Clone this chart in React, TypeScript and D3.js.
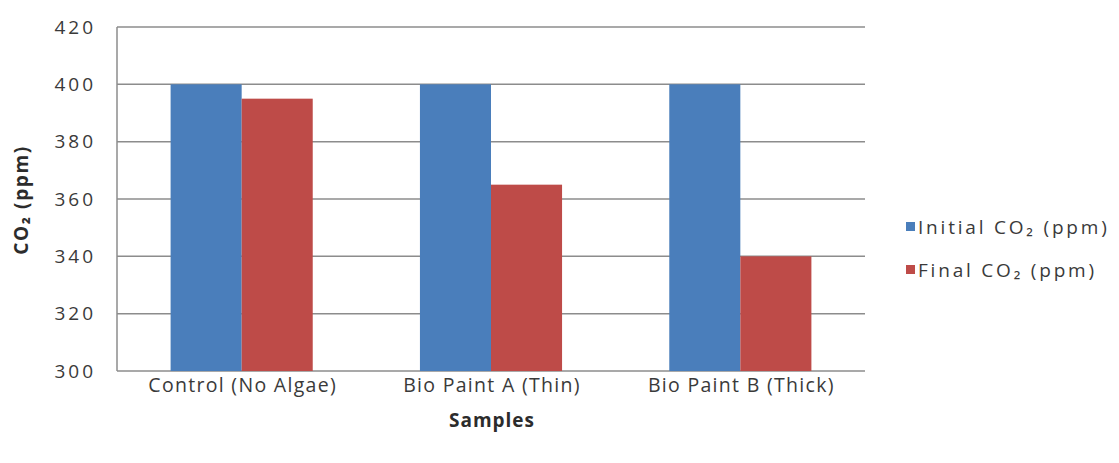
import React from "react";
import * as d3 from "d3";

const categories = ["Control (No Algae)", "Bio Paint A (Thin)", "Bio Paint B (Thick)"];
const seriesNames = ["Initial CO₂ (ppm)", "Final CO₂ (ppm)"];
const initialValues = [400, 400, 400];
const finalValues = [395, 365, 340];
const yTicks = [300, 320, 340, 360, 380, 400, 420];
const colors = ["#4a7ebb", "#be4b48"];

const W = 1119;
const H = 463;
const M = { left: 117, right: 865, top: 27, bottom: 371 };
const FONT = "'Open Sans', 'Liberation Sans', sans-serif";

export default function App() {
  const x = d3.scaleBand<string>().domain(categories).range([M.left, M.right]).paddingInner(0.43).paddingOuter(0.215);
  const xs = d3.scaleBand<string>().domain(["0", "1"]).range([0, x.bandwidth()]);
  const y = d3.scaleLinear().domain([300, 420]).range([M.bottom, M.top]);
  const series = [initialValues, finalValues];
  return (
    <svg width={W} height={H} style={{ position: "absolute", left: 0, top: 0, background: "#fff" }}>
      <rect x={0} y={0} width={W} height={H} fill="#fff" />
      {yTicks.map((t) => (
        <g key={t}>
          <line x1={M.left} x2={M.right} y1={y(t)} y2={y(t)} stroke="#8c8c8c" strokeWidth={1.5} />
          <text x={96} y={y(t)} dy="0.35em" textAnchor="end" fontFamily={FONT} fontSize={19} fill="#3a3a3a" letterSpacing={3}>
            {t}
          </text>
        </g>
      ))}
      {categories.map((c, i) => (
        <g key={c}>
          {series.map((s, j) => (
            <rect
              key={j}
              x={(x(c) as number) + (xs(String(j)) as number)}
              y={y(s[i])}
              width={xs.bandwidth()}
              height={y(300) - y(s[i])}
              fill={colors[j]}
            />
          ))}
          <text x={(x(c) as number) + x.bandwidth() / 2 + 1} y={392} textAnchor="middle" fontFamily={FONT} fontSize={19.5} fill="#3a3a3a" letterSpacing={1.3}>
            {c}
          </text>
        </g>
      ))}
      <line x1={M.left} x2={M.left} y1={M.top} y2={M.bottom} stroke="#8c8c8c" strokeWidth={1.5} />
      <text x={(M.left + M.right) / 2 + 1} y={427} textAnchor="middle" fontFamily={FONT} fontSize={19} fontWeight="bold" fill="#2c2c2c" letterSpacing={1}>
        Samples
      </text>
      <text transform={`translate(28,200) rotate(-90)`} textAnchor="middle" fontFamily={FONT} fontSize={19} fontWeight="bold" fill="#2c2c2c" letterSpacing={1.6}>
        CO₂ (ppm)
      </text>
      {seriesNames.map((n, j) => (
        <g key={n}>
          <rect x={906} y={[227, 270][j] - 5} width={9} height={9} fill={colors[j]} />
          <text x={918} y={[227, 270][j]} dy="0.35em" fontFamily={FONT} fontSize={19} fill="#3a3a3a" letterSpacing={2.8}>
            {n}
          </text>
        </g>
      ))}
    </svg>
  );
}
